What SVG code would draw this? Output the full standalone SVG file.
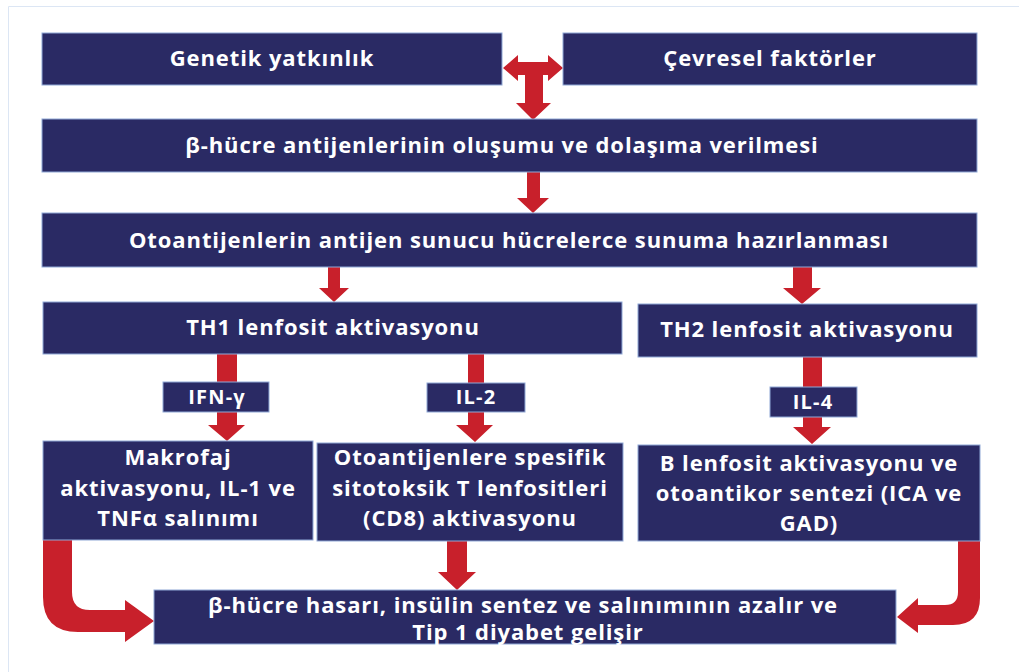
<svg xmlns="http://www.w3.org/2000/svg" width="1019" height="672" viewBox="0 0 1019 672">
<style>
.box{fill:#2a2a64;stroke:#8fa8d6;stroke-width:1}
.t{font-family:"Open Sans","Liberation Sans",sans-serif;font-weight:bold;fill:#ffffff;text-anchor:middle;font-size:22px;letter-spacing:0.9px}
.s{font-size:20px;letter-spacing:1.2px}
.arr{fill:#c8202b}
</style>
<rect width="1019" height="672" fill="#ffffff"/>
<path d="M8.5,672 V6.5 H1019" fill="none" stroke="#dce6f4" stroke-width="1"/>
<g id="connectors">
<path class="arr" d="M503,68 L518,55 L518,62 L548,62 L548,55 L563,68 L548,81 L548,75 L543,75 L543,103 L551,103 L533,120 L516,103 L525,103 L525,75 L518,75 L518,81 Z"/>
<path class="arr" d="M527,172 L540,172 L540,198 L549,198 L533,213 L517,198 L527,198 Z"/>
<path class="arr" d="M328,267 L340,267 L340,288 L349,288 L334,302 L319,288 L328,288 Z"/>
<path class="arr" d="M793,267 L812,267 L812,288 L821,288 L802,304 L783,288 L793,288 Z"/>
<path class="arr" d="M217,354 L237,354 L237,425 L245,425 L227,441 L208,425 L217,425 Z"/>
<path class="arr" d="M468,354 L484,354 L484,425 L493,425 L475,442 L456,425 L468,425 Z"/>
<path class="arr" d="M803,357 L822,357 L822,427 L831,427 L812,444 L793,427 L803,427 Z"/>
<path class="arr" d="M447,541 L467,541 L467,572 L476,572 L457,590 L438,572 L447,572 Z"/>
<path class="arr" d="M43,540 L72,540 L72,592 Q72,610 90,610 L125,610 L125,600 L154,621 L125,642 L125,632 L78,632 Q43,632 43,597 Z"/>
<path class="arr" d="M958,541 L980,541 L980,598 Q980,625 953,625 L918,625 L918,633 L897,617 L918,598 L918,605 L945,605 Q958,605 958,592 Z"/>
</g>
<g id="n1"><rect class="box" x="42" y="33" width="460" height="52"/><text class="t" x="272" y="66">Genetik yatkınlık</text></g>
<g id="n2"><rect class="box" x="563" y="33" width="414" height="52"/><text class="t" x="770" y="66">Çevresel faktörler</text></g>
<g id="n3"><rect class="box" x="42" y="119" width="935" height="53"/><text class="t" x="502" y="153">β-hücre antijenlerinin oluşumu ve dolaşıma verilmesi</text></g>
<g id="n4"><rect class="box" x="42" y="213" width="935" height="54"/><text class="t" x="509" y="248">Otoantijenlerin antijen sunucu hücrelerce sunuma hazırlanması</text></g>
<g id="n5"><rect class="box" x="43" y="302" width="579" height="52"/><text class="t" x="333" y="335">TH1 lenfosit aktivasyonu</text></g>
<g id="n6"><rect class="box" x="638" y="304" width="339" height="53"/><text class="t" x="807" y="337">TH2 lenfosit aktivasyonu</text></g>
<g id="n7"><rect class="box" x="163" y="382" width="106" height="30"/><text class="t s" x="217" y="404">IFN-γ</text></g>
<g id="n8"><rect class="box" x="427" y="383" width="98" height="29"/><text class="t s" x="476" y="404">IL-2</text></g>
<g id="n9"><rect class="box" x="770" y="387" width="87" height="30"/><text class="t s" x="813" y="409">IL-4</text></g>
<g id="n10"><rect class="box" x="43" y="441" width="270" height="99"/><text class="t" x="178" y="465">Makrofaj</text><text class="t" x="178" y="496">aktivasyonu, IL-1 ve</text><text class="t" x="178" y="526">TNFα salınımı</text></g>
<g id="n11"><rect class="box" x="317" y="443" width="306" height="98"/><text class="t" x="470" y="465">Otoantijenlere spesifik</text><text class="t" x="470" y="496">sitotoksik T lenfositleri</text><text class="t" x="470" y="526">(CD8) aktivasyonu</text></g>
<g id="n12"><rect class="box" x="638" y="445" width="342" height="96"/><text class="t" x="809" y="471">B lenfosit aktivasyonu ve</text><text class="t" x="809" y="501">otoantikor sentezi (ICA ve</text><text class="t" x="809" y="531">GAD)</text></g>
<g id="n13"><rect class="box" x="154" y="590" width="742" height="54"/><text class="t" x="523" y="613">β-hücre hasarı, insülin sentez ve salınımının azalır ve</text><text class="t" x="528" y="640">Tip 1 diyabet gelişir</text></g>
</svg>
